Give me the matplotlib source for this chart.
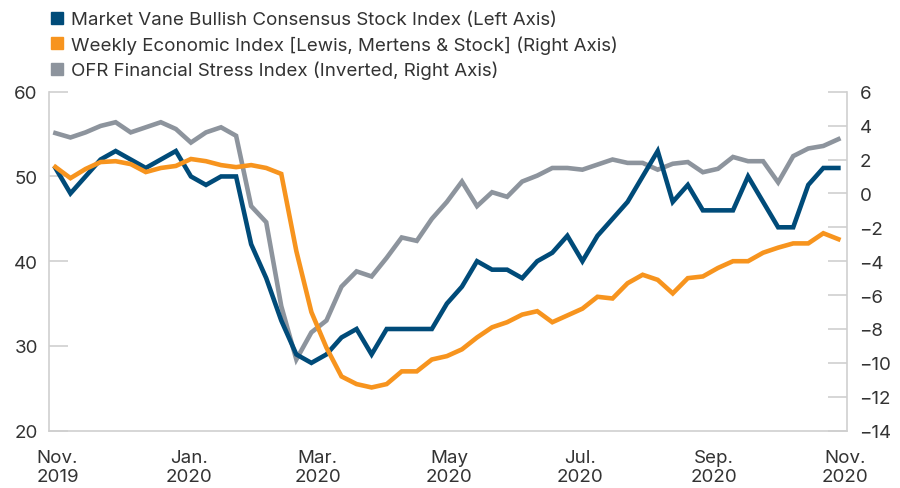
import matplotlib.pyplot as plt
from matplotlib.lines import Line2D
import numpy as np
import pandas as pd

plt.rcParams['font.family'] = ['Inter', 'Liberation Sans', 'DejaVu Sans']

## weekly data, Nov 2019 - Oct 2020
dates = pd.date_range('2019-10-31', periods=53, freq='7D')

market_vane = [51, 48, 50, 52, 53, 52, 51, 52, 53, 50, 49, 50, 50, 42, 38, 33,
               29, 28, 29, 31, 32, 29, 32, 32, 32, 32, 35, 37, 40, 39, 39, 38,
               40, 41, 43, 40, 43, 45, 47, 50, 53, 47, 49, 46, 46, 46, 50, 47,
               44, 44, 49, 51, 51]

wei = [1.56, 0.9, 1.44, 1.85, 1.9, 1.73, 1.26, 1.5, 1.62, 2.03, 1.9, 1.67, 1.55,
       1.67, 1.5, 1.15, -3.4, -7.0, -9.1, -10.8, -11.25, -11.45, -11.25, -10.5,
       -10.5, -9.8, -9.6, -9.2, -8.5, -7.9, -7.6, -7.15, -6.95, -7.6, -7.2, -6.8,
       -6.1, -6.2, -5.3, -4.8, -5.1, -5.9, -5.0, -4.9, -4.4, -4.0, -4.0, -3.5,
       -3.2, -2.95, -2.95, -2.35, -2.7]

# raw OFR stress index (plotted inverted)
ofr_stress = [-3.56, -3.3, -3.6, -3.98, -4.2, -3.6, -3.9, -4.2, -3.8, -3.0, -3.6,
              -3.9, -3.4, 0.75, 1.7, 6.65, 9.8, 8.2, 7.5, 5.5, 4.6, 4.9, 3.8, 2.6,
              2.8, 1.5, 0.5, -0.7, 0.75, -0.07, 0.2, -0.7, -1.05, -1.5, -1.5, -1.4,
              -1.7, -2.0, -1.8, -1.8, -1.4, -1.75, -1.85, -1.25, -1.45, -2.15, -1.9,
              -1.9, -0.65, -2.2, -2.65, -2.8, -3.2]

tick_dates = pd.to_datetime(['2019-11-01', '2020-01-01', '2020-03-01', '2020-05-01',
                             '2020-07-01', '2020-09-01', '2020-11-01'])
tick_labels = ['Nov.\n2019', 'Jan.\n2020', 'Mar.\n2020', 'May\n2020',
               'Jul.\n2020', 'Sep.\n2020', 'Nov.\n2020']

labels = ['Market Vane Bullish Consensus Stock Index (Left Axis)',
          'Weekly Economic Index [Lewis, Mertens & Stock] (Right Axis)',
          'OFR Financial Stress Index (Inverted, Right Axis)']

c_blue = '#004b79'
c_orange = '#f7941e'
c_grey = '#8d949d'
c_axis = '#cfcfcf'
c_text = '#333333'

fig = plt.figure(figsize=(9, 4.89), dpi=100)
ax = fig.add_axes([0.0544, 0.1172, 0.8867, 0.6932])
ax2 = ax.twinx()

# grey drawn in ax (under blue) but on the right-axis scale
ax.plot(dates, -np.array(ofr_stress), color=c_grey, lw=3.3, transform=ax2.transData,
        solid_joinstyle='miter')
ax.plot(dates, market_vane, color=c_blue, lw=3.3, solid_joinstyle='miter')
ax2.plot(dates, wei, color=c_orange, lw=3.3, solid_joinstyle='miter')

ax.set_ylim(20, 60)
ax.set_yticks([20, 30, 40, 50, 60])
ax2.set_ylim(-14, 6)
ax2.set_yticks(range(-14, 7, 2))
ax.set_xlim(pd.Timestamp('2019-10-28'), pd.Timestamp('2020-11-02'))
ax.set_xticks(tick_dates)
ax.set_xticklabels(tick_labels, linespacing=1.2)

for a in (ax, ax2):
    a.spines['top'].set_visible(False)
    for s in a.spines.values():
        s.set_color(c_axis)
        s.set_linewidth(1.2)
ax.spines['right'].set_visible(False)
ax2.spines['left'].set_visible(False)
ax2.spines['bottom'].set_visible(False)

ax.tick_params(axis='y', direction='in', length=14, width=1.2, color=c_axis,
               labelsize=13.5, labelcolor=c_text, pad=8)
ax2.tick_params(axis='y', direction='in', length=14, width=1.2, color=c_axis,
                labelsize=13.5, labelcolor=c_text, pad=9)
ax.tick_params(axis='x', length=0, labelsize=13.5, labelcolor=c_text, pad=13)

handles = [Line2D([], [], ls='none', marker='s', markersize=8.5, color=c)
           for c in (c_blue, c_orange, c_grey)]
fig.legend(handles, labels, loc='upper left', bbox_to_anchor=(0.043, 1.0),
           frameon=False, fontsize=13.5, handlelength=0.7, handletextpad=0.35,
           labelspacing=0.37, borderaxespad=0.25, labelcolor=c_text)

plt.savefig('out.png', dpi=100)
